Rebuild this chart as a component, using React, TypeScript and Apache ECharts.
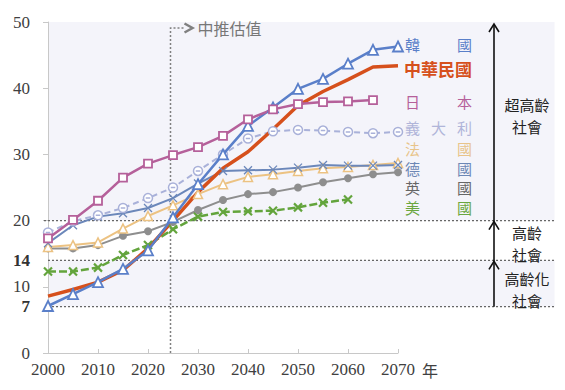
import React, { useEffect, useRef } from "react";
import * as echarts from "echarts";

const years = [2000, 2005, 2010, 2015, 2020, 2025, 2030, 2035, 2040, 2045, 2050, 2055, 2060, 2065, 2070];
const korea = [7.1, 8.9, 10.7, 12.7, 15.5, 20.5, 25.5, 30.0, 34.3, 37.1, 39.9, 41.4, 43.7, 45.8, 46.3];
const roc = [8.6, 9.6, 10.7, 12.5, 15.8, 20.0, 24.3, 27.9, 30.4, 33.8, 37.4, 39.5, 41.3, 43.2, 43.4];
const japan = [17.3, 20.1, 23.0, 26.5, 28.6, 29.9, 31.1, 32.8, 35.3, 36.8, 37.6, 37.9, 38.0, 38.2, null];
const italy = [18.2, 19.9, 20.8, 21.9, 23.4, 25.0, 27.5, 30.0, 32.4, 33.5, 33.7, 33.6, 33.4, 33.2, 33.4];
const germany = [16.6, 19.3, 20.6, 21.1, 21.9, 23.4, 25.6, 27.5, 27.6, 27.7, 28.0, 28.4, 28.3, 28.3, 28.4];
const france = [16.0, 16.3, 16.7, 18.8, 20.7, 22.3, 24.0, 25.5, 26.6, 27.0, 27.5, 27.9, 28.1, 28.4, 28.7];
const uk = [15.8, 15.8, 16.3, 17.7, 18.4, 19.8, 21.6, 23.1, 24.0, 24.3, 25.0, 25.8, 26.4, 27.0, 27.3];
const us = [12.3, 12.3, 12.9, 14.8, 16.3, 18.7, 20.6, 21.3, 21.4, 21.5, 22.0, 22.7, 23.2, null, null];

const thresholds = [20, 14, 7];
const boldTicks = [7, 14];
const projectionStart = 2024.5;
const xTicks = { min: 2000, max: 2070, interval: 10 };
const yTicks = { min: 0, max: 50, interval: 10 };

const SERIF = "Liberation Serif, Times New Roman, serif";
const CJK = "Noto Sans CJK TC, Noto Sans, sans-serif";

const X_SYMBOL = "path://M0,0L10,10M10,0L0,10";
const CIRCLE_MINUS = "path://M0,5A5,5,0,1,1,10,5A5,5,0,1,1,0,5ZM2.5,5L7.5,5";

function pairs(vals: (number | null)[]) {
  return years.map((y, i) => [y, vals[i]]).filter((p) => p[1] !== null);
}

export default function App() {
  const ref = useRef<HTMLDivElement>(null);
  useEffect(() => {
    if (!ref.current) return;
    const chart = echarts.init(ref.current, undefined, { renderer: "svg" });

    const mk = (name: string, vals: (number | null)[], color: string, opts: any) => ({
      name,
      type: "line",
      data: pairs(vals),
      lineStyle: { color, width: opts.width || 2, type: opts.dash || "solid" },
      symbol: opts.symbol || "none",
      symbolSize: opts.size || 8,
      showSymbol: !!opts.symbol,
      itemStyle: {
        color: opts.fill || "#fff",
        borderColor: color,
        borderWidth: opts.bw === undefined ? 1.5 : opts.bw,
      },
      z: opts.z || 2,
      silent: true,
    });

    const series: any[] = [
      mk("美國", us, "#63a43c", { symbol: X_SYMBOL, size: 8, dash: [8, 3], width: 2.5, bw: 2.2, fill: "none" }),
      mk("英國", uk, "#8e8e8e", { symbol: "circle", size: 8, width: 2, fill: "#8e8e8e", bw: 0 }),
      mk("法國", france, "#ecc282", { symbol: "triangle", size: 9, width: 2 }),
      mk("德國", germany, "#6b87ba", { symbol: X_SYMBOL, size: 8, width: 2, bw: 1.3, fill: "none" }),
      mk("義大利", italy, "#a9b1d9", { symbol: CIRCLE_MINUS, size: 9, width: 2, dash: [6, 4] }),
      mk("中華民國", roc, "#d6501c", { width: 3.5 }),
      mk("韓國", korea, "#5a7fc9", { symbol: "triangle", size: 10, width: 2.5, bw: 1.8, z: 3 }),
      mk("日本", japan, "#b5609a", { symbol: "rect", size: 8, width: 2.5, bw: 1.8, z: 3 }),
    ];

    chart.setOption({
      animation: false,
      grid: { left: 48, right: 167, top: 22, bottom: 37, containLabel: false },
      xAxis: {
        type: "value",
        min: xTicks.min,
        max: xTicks.max,
        interval: xTicks.interval,
        axisLine: { lineStyle: { color: "#c8c8c8", width: 1 } },
        axisTick: { inside: true, length: 4, lineStyle: { color: "#c8c8c8" } },
        splitLine: { show: false },
        axisLabel: {
          fontFamily: SERIF,
          fontSize: 17,
          color: "#404040",
          margin: 8,
          formatter: (v: number) => String(v),
        },
      },
      yAxis: [
        {
          type: "value",
          min: yTicks.min,
          max: yTicks.max,
          interval: yTicks.interval,
          axisLine: { show: true, lineStyle: { color: "#c8c8c8", width: 1 } },
          axisTick: { show: true, length: 5, lineStyle: { color: "#c8c8c8" } },
          splitLine: { show: false },
          axisLabel: { fontFamily: SERIF, fontSize: 17, color: "#404040", margin: 18 },
        },
        {
          type: "value",
          position: "left",
          min: 0,
          max: 50,
          interval: 7,
          axisLine: { show: false },
          axisTick: { show: false },
          splitLine: { show: false },
          axisLabel: {
            margin: 18,
            formatter: (v: number) => (boldTicks.indexOf(v) >= 0 ? "{b|" + v + "}" : ""),
            rich: { b: { fontFamily: SERIF, fontSize: 17, fontWeight: "bold", color: "#333" } },
          },
        },
      ],
      series,
    });

    const px = (x: number, y: number) => chart.convertToPixel({ gridIndex: 0 }, [x, y]) as number[];
    const x0 = px(2000, 0)[0];
    const xEnd = px(2070, 0)[0];
    const yBottom = px(2000, 0)[1];
    const yTop = px(2000, 50)[1];
    const y20 = px(2000, 20)[1];
    const y14 = px(2000, 14)[1];
    const y7 = px(2000, 7)[1];
    const xp = px(projectionStart, 0)[0];
    const rightEdge = 554;
    const arrowX = 494;
    const bg = "#f4f4fa";

    const arrowHead = (y: number) => ({
      type: "polyline",
      shape: { points: [[arrowX - 5, y + 8], [arrowX, y], [arrowX + 5, y + 8]] },
      style: { stroke: "#111", lineWidth: 1.6, fill: "none" },
      z: 20,
    });

    const legendItems = [
      { chars: ["韓", "國"], y: 44, color: "#5a7fc9" },
      { chars: ["日", "本"], y: 101, color: "#b5609a" },
      { chars: ["義", "大", "利"], y: 127, color: "#b0b5d9" },
      { chars: ["法", "國"], y: 148.5, color: "#e8c48a" },
      { chars: ["德", "國"], y: 168, color: "#6d87b5" },
      { chars: ["英", "國"], y: 187.5, color: "#666666" },
      { chars: ["美", "國"], y: 207, color: "#6aa640" },
    ];
    const lx0 = 405;
    const lx1 = 472;
    const legendTexts: any[] = [];
    legendItems.forEach((it) => {
      const n = it.chars.length;
      it.chars.forEach((c, i) => {
        const cx = lx0 + 7.5 + ((lx1 - lx0 - 15) * i) / (n - 1);
        legendTexts.push({
          type: "text",
          x: cx,
          y: it.y,
          style: {
            text: c,
            fill: it.color,
            font: "15px " + CJK,
            lineHeight: 15,
            align: "center",
            verticalAlign: "middle",
          },
          z: 20,
        });
      });
    });
    legendTexts.push({
      type: "text",
      x: lx0 - 1,
      y: 68,
      style: {
        text: "中華民國",
        fill: "#d6501c",
        font: "bold 17px " + CJK,
        lineHeight: 17,
        align: "left",
        verticalAlign: "middle",
      },
      z: 20,
    });

    const annotLine = (text: string, y: number) => ({
      type: "text",
      x: 527,
      y,
      style: {
        text,
        fill: "#222",
        font: "15px " + CJK,
        lineHeight: 15,
        align: "center",
        verticalAlign: "middle",
      },
      z: 20,
    });

    const graphic: any[] = [
      { type: "rect", shape: { x: x0 + 0.5, y: yTop, width: rightEdge - x0, height: y20 - yTop }, style: { fill: bg }, z: -10, silent: true },
      { type: "rect", shape: { x: x0 + 0.5, y: y14, width: rightEdge - x0, height: y7 - y14 }, style: { fill: bg }, z: -10, silent: true },
      ...thresholds.map((t) => ({
        type: "line",
        shape: { x1: t === 20 ? x0 - 4 : x0, y1: px(2000, t)[1], x2: rightEdge, y2: px(2000, t)[1] },
        style: { stroke: "#666", lineWidth: 1.2, lineDash: [2, 2] },
        z: 1,
      })),
      {
        type: "polyline",
        shape: { points: [[xp, yBottom], [xp, 28], [xp + 14, 28]] },
        style: { stroke: "#808080", lineWidth: 1.5, lineDash: [2, 2], fill: "none" },
        z: 1,
      },
      {
        type: "polyline",
        shape: { points: [[xp + 14, 23.5], [xp + 22, 28], [xp + 14, 32.5]] },
        style: { stroke: "#808080", lineWidth: 2.5, fill: "none" },
        z: 1,
      },
      {
        type: "text",
        x: xp + 27,
        y: 28,
        style: { text: "中推估值", fill: "#777", font: "16px " + CJK, align: "left", verticalAlign: "middle" },
        z: 20,
      },
      {
        type: "text",
        x: xEnd + 24,
        y: 370,
        style: { text: "年", fill: "#404040", font: "16px " + CJK, align: "left", verticalAlign: "middle" },
        z: 20,
      },
      {
        type: "line",
        shape: { x1: arrowX, y1: y7, x2: arrowX, y2: yTop + 2 },
        style: { stroke: "#111", lineWidth: 1.6 },
        z: 20,
      },
      arrowHead(yTop + 2),
      arrowHead(y20 + 1),
      arrowHead(y14 + 1),
      annotLine("超高齡", 104),
      annotLine("社會", 126),
      annotLine("高齡", 232),
      annotLine("社會", 254),
      annotLine("高齡化", 278),
      annotLine("社會", 300),
      ...legendTexts,
    ];
    chart.setOption({ graphic });

    return () => chart.dispose();
  }, []);
  return <div ref={ref} style={{ position: "absolute", left: 0, top: 0, width: 565, height: 390 }} />;
}
